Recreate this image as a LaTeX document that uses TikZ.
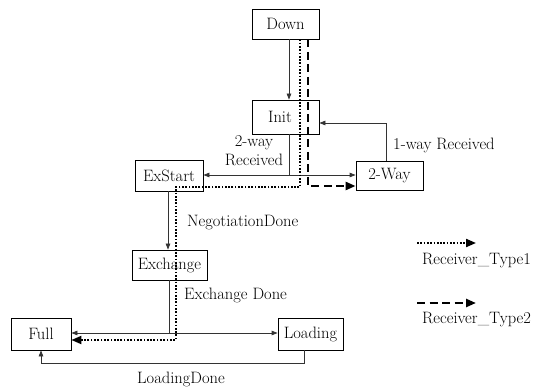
\documentclass[tikz,border=0pt]{standalone}
\usetikzlibrary{arrows.meta,calc}
\begin{document}
\begin{tikzpicture}[x=1pt,y=-1pt,
  font=\fontsize{16.5}{19}\selectfont,
  state/.style={draw=black,line width=0.8pt,inner sep=0pt,fill=none},
  flow/.style={draw=black!80,line width=0.8pt,-{Triangle[length=6pt,width=4.5pt]}},
  plain/.style={draw=black!80,line width=0.8pt},
  typeone/.style={draw=black,line width=2pt,dash pattern=on 1.7pt off 1.6pt,
     -{Triangle[length=10pt,width=8pt]}},
  typetwo/.style={draw=black,line width=2.4pt,dash pattern=on 8pt off 4.5pt,
     -{Triangle[length=10pt,width=8pt]}},
  lbl/.style={inner sep=0pt}]
\useasboundingbox (0,0) rectangle (541,390);

% states
\node[state,minimum width=67pt,minimum height=30pt] (down) at (285.5,24) {Down};
\node[state,minimum width=67pt,minimum height=34pt] (init) at (285.5,117) {};
\node[lbl] (inittext) at (280,117) {Init};
\node[state,minimum width=67pt,minimum height=29pt] (twoway) at (389.5,175.5) {2-Way};
\node[state,minimum width=68pt,minimum height=31pt] (exstart) at (169,175.5) {ExStart};
\node[state,minimum width=75pt,minimum height=30pt] (exchange) at (169.5,265) {Exchange};
\node[state,minimum width=60pt,minimum height=32pt] (full) at (41,334) {Full};
\node[state,minimum width=65pt,minimum height=32pt] (loading) at (310.5,334) {Loading};

% branch points
\coordinate (jinit) at (289,175);
\coordinate (jexch) at (169,333);
\coordinate (dotturn) at (300,187);
\coordinate (dotdown) at (176,187);
\coordinate (dotlow) at (176,340);
\coordinate (dashturn) at (308,186);

% transitions (solid)
\draw[flow] (down.south -| 289,0) -- (init.north -| 289,0);
\draw[plain] (init.south -| jinit) -- (jinit);
\draw[flow] (jinit) -- (jinit -| exstart.east);
\draw[flow] (jinit) -- (jinit -| twoway.west);
\draw[flow] (twoway.north -| 386,0) |- (init.east |- 0,123);
\draw[flow] (exstart.south -| 168,0) -- (exchange.north -| 168,0);
\draw[plain] (exchange.south -| jexch) -- (jexch);
\draw[flow] (jexch) -- (jexch -| full.east);
\draw[flow] (jexch) -- (jexch -| loading.west);
\draw[flow] (loading.south -| 304,0) -- (304,363) -| (full.south);

% receiver type 1 path (dotted)
\draw[typeone] (down.south -| dotturn) -- (dotturn) -- (dotdown) -- (dotlow)
   -- (dotlow -| full.east);

% receiver type 2 path (dashed)
\draw[typetwo] (down.south -| dashturn) -- (dashturn) -- (dashturn -| twoway.west);

% transition labels
\node[lbl,align=center] (l2way) at (254,151) {2-way\\Received};
\node[lbl,anchor=west] (l1way) at (393,145) {1-way Received};
\node[lbl,anchor=west] (lneg) at (187,223) {NegotiationDone};
\node[lbl,anchor=west] (lexd) at (184,295) {Exchange Done};
\node[lbl] (lload) at (181,379) {LoadingDone};

% legend
\coordinate (k1a) at (417,243);
\coordinate (k1b) at (476,243);
\coordinate (k2a) at (417,303);
\coordinate (k2b) at (476,303);
\draw[typeone] (k1a) -- (k1b);
\draw[typetwo] (k2a) -- (k2b);
\node[lbl,anchor=west] (t1) at (422,261) {Receiver\_Type1};
\node[lbl,anchor=west] (t2) at (422,320) {Receiver\_Type2};
\end{tikzpicture}
\end{document}
